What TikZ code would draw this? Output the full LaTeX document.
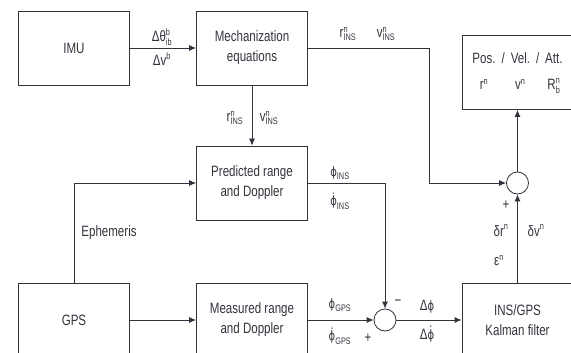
\documentclass[tikz,border=0pt]{standalone}
\usepackage{fontspec}
\setmainfont[FakeStretch=0.77]{Liberation Sans}
\newfontfamily\greekfont[FakeStretch=0.77]{DejaVu Sans}
\usetikzlibrary{arrows.meta}
\definecolor{ink}{RGB}{50,50,60}
% symbol with upright sup/sub
\newcommand{\ssym}[3]{$\mbox{#1}^{\mbox{\fontsize{9.5}{9.5}\selectfont #2}}_{\mbox{\fontsize{9.5}{9.5}\selectfont #3}}$}
\newcommand{\phis}{{\greekfont\fontsize{13}{13}\selectfont ϕ}}
\newcommand{\dphi}{\dot{\mbox{\phis}}}
\begin{document}
\begin{tikzpicture}[x=1pt,y=-1pt,line width=0.8pt,color=ink,>={Latex[length=7pt,width=6pt]},
    every node/.style={font=\fontsize{15}{20}\selectfont}]
    %
    % `block' is used for the boxes.
    % `sum' is used for the summing circles.
    % `lbl' is used for the signal labels.
    \tikzstyle{block} = [draw,minimum width=111pt,minimum height=74pt,align=center,inner sep=2pt]
    \tikzstyle{sum} = [draw,circle,minimum size=22pt,inner sep=0pt]
    \tikzstyle{lbl} = [inner sep=0pt]
    \useasboundingbox (0,0) rectangle (571,353);
    %
    % Blocks
    \node[block] (imu) at (74,48) {IMU};
    \node[block] (mech) at (252,48) {Mechanization\\equations};
    \node[block] (pred) at (252,183) {Predicted range\\and Doppler};
    \node[block] (gps) at (74,320) {GPS};
    \node[block] (meas) at (252,320) {Measured range\\and Doppler};
    \node[block] (kal) at (517.5,320) {INS/GPS\\Kalman filter};
    \node[block] (out) at (517.5,72.5) {\tabcolsep=3pt\begin{tabular}{@{}ccccc@{}}
        Pos. & / & Vel. & / & Att.\\[7pt]
        \ssym{r}{n}{} & & \ssym{v}{n}{} & & \ssym{R}{n}{b}
      \end{tabular}};
    %
    % Sums
    \node[sum] (sum1) at (385,320) {};
    \node[sum] (sum2) at (517.5,183) {};
    \coordinate (bend) at (429,183);
    %
    % Connections
    \draw[->] (imu) -- (mech);
    \draw[->] (mech) -- (pred);
    \draw[->] (gps.north) |- (pred.west);
    \draw[->] (gps) -- (meas);
    \draw[->] (pred.east) -| (sum1.north);
    \draw[->] (meas) -- (sum1);
    \draw[->] (sum1) -- (kal);
    \draw[->] (kal.north) -- (sum2.south);
    \draw[->] (sum2) -- (out);
    \draw[->] (mech.east) -| (bend) -- (sum2.west);
    %
    % Labels
    \node[lbl] (dth) at (162,37) {\ssym{Δθ}{b}{ib}};
    \node[lbl] (dv) at (162,61) {\ssym{Δv}{b}{}};
    \node[lbl] (rins1) at (235,118) {\ssym{r}{n}{INS}};
    \node[lbl] (vins1) at (269,118) {\ssym{v}{n}{INS}};
    \node[lbl] (rins2) at (348,34) {\ssym{r}{n}{INS}};
    \node[lbl] (vins2) at (386,34) {\ssym{v}{n}{INS}};
    \node[lbl] (phins) at (340,173) {\ssym{\phis}{}{INS}};
    \node[lbl] (dphins) at (340,201) {$\dphi_{\mbox{\fontsize{9.5}{9.5}\selectfont INS}}$};
    \node[lbl] (eph) at (109,233) {Ephemeris};
    \node[lbl] (phgps) at (340,305) {\ssym{\phis}{}{GPS}};
    \node[lbl] (dphgps) at (340,336) {$\dphi_{\mbox{\fontsize{9.5}{9.5}\selectfont GPS}}$};
    \node[lbl] (plus1) at (368,338) {+};
    \node[lbl] (minus1) at (398,303) {−};
    \node[lbl] (dph) at (427,307) {Δ\phis};
    \node[lbl] (ddph) at (427,334) {$\mbox{Δ}\dphi$};
    \node[lbl] (plus2) at (506,205) {+};
    \node[lbl] (dr) at (501,232) {\ssym{δr}{n}{}};
    \node[lbl] (dvn) at (536,232) {\ssym{δv}{n}{}};
    \node[lbl] (eps) at (499,262) {\ssym{ε}{n}{}};
\end{tikzpicture}
\end{document}
